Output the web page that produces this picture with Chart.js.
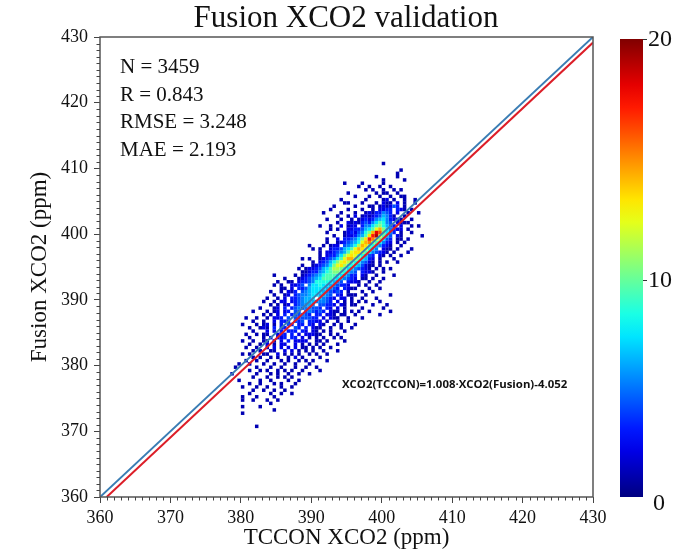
<!DOCTYPE html>
<html>
<head>
<meta charset="utf-8">
<title>Fusion XCO2 validation</title>
<script src="https://cdn.jsdelivr.net/npm/chart.js@4.4.0/dist/chart.umd.min.js"></script>
<style>
    body { margin: 0; background: #fff; }
    #wrap { position: relative; width: 679px; height: 552px; overflow: hidden; }
    #chart { position: absolute; left: 0; top: 0; }
    .serif { position: absolute; font-family: 'Liberation Serif', 'Times New Roman', serif; color: #111; line-height: 1; white-space: nowrap; }
    #title { font-size: 31px; top: 1px; left: 346px; transform: translateX(-50%); }
    .stat { font-size: 21px; left: 120px; }
    #fitText { position: absolute; font-family: 'Open Sans', sans-serif; font-weight: 700; font-size: 11.4px; line-height: 1; color: #111; left: 342px; top: 378px; white-space: nowrap; }
    #cbar { position: absolute; left: 620px; top: 39px; width: 23px; height: 458px; }
    .cbTick { position: absolute; left: 643px; width: 4px; height: 1px; background: #333; }
    .cbLabel { font-size: 24px; }
</style>
</head>
<body>
<div id="wrap">
    <canvas id="chart" width="679" height="552" style="width:679px;height:552px"></canvas>
    <div id="title" class="serif"></div>
    <div id="stats"></div>
    <div id="fitText"></div>
    <div id="cbar"></div>
    <div id="cbLabels"></div>
</div>
<script>
// ---- data ----
var titleText = "Fusion XCO2 validation";
var xTitle = "TCCON XCO2 (ppm)";
var yTitle = "Fusion XCO2 (ppm)";
var axisMin = 360;
var axisMax = 430;
var statLabels = ["N = 3459", "R = 0.843", "RMSE = 3.248", "MAE = 2.193"];
var fitLabel = "XCO2(TCCON)=1.008\u00B7XCO2(Fusion)-4.052";

// 1:1 line and fitted line (end points)
var oneToOneX = [360, 430];
var oneToOneY = [360, 430];
var fitX = [360.95, 430];
var fitY = [360, 429.15];

// colour bar
var countMax = 20;
var cbarTicks = [20, 10, 0];

// 2D histogram: 0.5 ppm bins, first column starts at 378.5 (TCCON),
// first row ends at 411 (Fusion), rows go downward.
// '.' = empty, 1-9, a=10 ... k=20 counts per bin
var binSize = 0.5;
var binX0 = 378.5;
var binYTop = 411;
var densityRows = [
    "..... ..... ..... ..... ..... ..... ..... ..... ...1. ..... .....",
    "..... ..... ..... ..... ..... ..... ..... ..... ..... ..... .....",
    "..... ..... ..... ..... ..... ..... ..... ..... ..... ...1. .....",
    "..... ..... ..... ..... ..... ..... ..... ..... ..... ..1.. .....",
    "..... ..... ..... ..... ..... ..... ..... ..... .1... ..1.. .....",
    "..... ..... ..... ..... ..... ..... ..... ..... ...1. ....1 .....",
    "..... ..... ..... ..... ..... ..... ..1.. ..1.. ...1. ..... .....",
    "..... ..... ..... ..... ..... ..... ..... .1..1 ..1.. 1.... .....",
    "..... ..... ..... ..... ..... ..... ..... ...1. 1..1. .1.1. .....",
    "..... ..... ..... ..... ..... ..... ...1. ..... .1.11 ..1.. .....",
    "..... ..... ..... ..... ..... ..... ..... 1...1 ..1.. 1..11 .....",
    "..... ..... ..... ..... ..... ..... .1... ...1. ...12 .1..1 ..1..",
    "..... ..... ..... ..... ..... ..... ..11. ..1.. .1.21 1.2.1 ..1..",
    "..... ..... ..... ..... ..... ....1 ..... 1...1 1.121 243.1 .....",
    "..... ..... ..... ..... ..... ...1. ...1. ..1.. 1.223 3.321 .1...",
    "..... ..... ..... ..... ..... .1... .1... 1..12 13354 3.2.. 1..1.",
    "..... ..... ..... ..... ..... ..... 1..1. 2.121 23465 31..1 .....",
    "..... ..... ..... ..... ..... ..1.. .1..1 .1232 35675 3221. .1...",
    "..... ..... ..... ..... ..... ..... 1..21 21343 57985 4.211 1....",
    "..... ..... ..... ..... ..... 1..1. .2.12 2.355 79a86 43.2. .1.1.",
    "..... ..... ..... ..... ..... ...1. 1..22 33467 9cea7 5322. 1....",
    "..... ..... ..... ..... ..... ..1.. ..123 2458a eiga7 53.1. .1...",
    "..... ..... ..... ..... ..... ....1 ..122 3569d hjc96 4.21. ....1",
    "..... ..... ..... ..... ..... ..1.. 2.334 57adh fca74 3.11. 1....",
    "..... ..... ..... ..... ..... ..1.. 12345 68cef b9753 2.1.1 .....",
    "..... ..... ..... ..... ..1.. .1.12 2.456 8beda 86532 1..1. .....",
    "..... ..... ..... ..... ...1. 1..23 34679 cedb8 65.21 1.1.. .1...",
    "..... ..... ..... ..... ..... 1.223 4569c ddb97 54321 .1... 1....",
    "..... ..... ..... ..... ..... 1.233 57acd ca864 3.21. 1..1. .....",
    "..... ..... ..... ..... 1.1.. 12345 79cee b9763 2.1.. .1... .....",
    "..... ..... ..... ..... ...1. 23468 acdb9 87542 1.1.1 ..1.. .....",
    "..... ..... ..... ..... 1..12 3457a cdb98 76421 1.1.. ..... .....",
    "..... ..... ..... ....1 .1223 4679b ba976 54321 .1.1. 1.... .....",
    "..... ..... ..... ..... 11233 5689a a9865 4.322 1..1. ..... .....",
    "..... ..... ..1.. ...1. 12345 68999 87653 3.21. .1... .1... .....",
    "..... ..... ..... 1...1 23456 79998 76543 2.11. 1..1. ..... .....",
    "..... ..... ...1. .11.2 33458 88876 54.32 21..1 ..1.. ..... .....",
    "..... ..... ..1.1 ..223 4.577 87765 4332. .1.1. .1... ..... .....",
    "..... ..... ....1 1.2.3 34677 77654 3.321 1...1 ..1.. ..... .....",
    "..... ..... .1..1 .213. 45677 76543 43.1. ..1.. 1.... ..... .....",
    "..... ..... ..1.. 12.34 55677 6654. 32.11 1..1. ..... 1.... .....",
    "..... ..... 1..1. 2.334 5667. 65432 .22.1 ..1.. .1... ..... .....",
    "..... ....1 ..1.2 2.234 56665 5543. 2.1.1 .1.1. ..1.. ..... .....",
    "..... ..... .1.1. 12.34 5565. 44332 .21.1 1.... 1...1 ..... .....",
    "..... ...1. ..12. 3.345 45544 3.32. 2.1.. ..1.. ...1. ..... .....",
    "..... .1... 1.12. 23.44 .4543 43.21 1.1.1 .1..1 ..... 1.... .....",
    "..... ....1 .1.2. 3.344 543.3 3.221 .11.. 1.... ..1.. ..... .....",
    "....1 ..1.. 1.223 .4.44 44433 .2.21 1..1. ..1.. ..... ..... .....",
    "..... .1..1 ..2.3 33.43 4.332 2.1.. 1..1. ..... ..... ..... .....",
    "...1. ..1.1 2.1.3 .43.3 3.32. 21..1 .1... 1.... ..... ..... .....",
    "..... 1..12 1.3.3 3..43 .3.21 1..1. .1..1 ..... ..... ..... .....",
    "..... .1... 2.2.3 .333. 32.21 .1.1. ..1.. ..... ..... ..... .....",
    "....1 ..1.1 1..23 3.3.2 .2221 1..1. 1.... ..... ..... ..... .....",
    "..... 1...1 .2.22 3.33. 2.1.1 .1..1 .1... ..... ..... ..... .....",
    "...1. .1..1 1.1.2 .3.22 22..1 1.1.. ..1.. ..... ..... ..... .....",
    "..... 1..1. 2.1.2 2..2. 1.1.1 .1... 1.... ..... ..... ..... .....",
    "....1 ..1.. 1.2.2 .2.2. 11.1. 1..1. ..... ..... ..... ..... .....",
    "..... .1.1. .11.. 2.2.1 .1.1. .1... 1.... ..... ..... ..... .....",
    "...1. 1...1 1..2. 1.1.1 ..1.1 ..1.. ..... ..... ..... ..... .....",
    "..... .1.1. .1.1. .1.2. 1.... 1.... ..... ..... ..... ..... .....",
    "....1 ..1.. 1...1 .1..1 .1.1. ..1.. ..... ..... ..... ..... .....",
    "..1.. 1...1 ..1.. 1..1. ..1.. ..... ..... ..... ..... ..... .....",
    ".1... ..1.. .1..1 ...1. .1..1 ..... ..... ..... ..... ..... .....",
    "..... 1..1. 1..1. 1.1.. 1.... 1.... ..... ..... ..... ..... .....",
    "1.... ..1.. .1.1. .1..1 ..1.. ..... ..... ..... ..... ..... .....",
    "..... .1... 1..1. 1.1.. ..... ..... ..... ..... ..... ..... .....",
    "..1.. ...1. .1... .1..1 ..... ..... ..... ..... ..... ..... .....",
    "..... 1..1. ..1.1 ...1. ..... ..... ..... ..... ..... ..... .....",
    "...1. ..1.. 1...1 ..1.. ..... ..... ..... ..... ..... ..... .....",
    "..... .1..1 ..1.. 1.... ..... ..... ..... ..... ..... ..... .....",
    "..... 1.... .1..1 ..1.. ..... ..... ..... ..... ..... ..... .....",
    "...1. ..1.. ..1.. ..... ..... ..... ..... ..... ..... ..... .....",
    "...1. .1... 1..1. ..... ..... ..... ..... ..... ..... ..... .....",
    "..... ..... .1... ..... ..... ..... ..... ..... ..... ..... .....",
    "...1. ...1. ..... ..... ..... ..... ..... ..... ..... ..... .....",
    "..... ..... ..1.. ..... ..... ..... ..... ..... ..... ..... .....",
    "...1. ..... ..... ..... ..... ..... ..... ..... ..... ..... .....",
    "..... ..... ..... ..... ..... ..... ..... ..... ..... ..... .....",
    "..... ..... ..... ..... ..... ..... ..... ..... ..... ..... .....",
    "..... ..... ..... ..... ..... ..... ..... ..... ..... ..... .....",
    "..... ..1.. ..... ..... ..... ..... ..... ..... ..... ..... ....."
];

// jet colour map, t in [0,1]
function jet(t) {
    t = Math.max(0, Math.min(1, t));
    function clamp(v) { return Math.max(0, Math.min(1, v)); }
    var r = clamp(Math.min(4 * t - 1.5, -4 * t + 4.5));
    var g = clamp(Math.min(4 * t - 0.5, -4 * t + 3.5));
    var b = clamp(Math.min(4 * t + 0.5, -4 * t + 2.5));
    return 'rgb(' + Math.round(r * 255) + ',' + Math.round(g * 255) + ',' + Math.round(b * 255) + ')';
}

// build the cell list from the rows
var vCells = [];
for (var r = 0; r < densityRows.length; r++) {
    var bRow = densityRows[r].replace(/ /g, '');
    for (var c = 0; c < bRow.length; c++) {
        if (bRow[c] === '.') continue;
        vCells.push({
            x: binX0 + binSize * (c + 0.5),
            y: binYTop - binSize * (r + 0.5),
            v: parseInt(bRow[c], 36)
        });
    }
}
// higher counts drawn last
vCells.sort(function (a, b) { return a.v - b.v; });

var SERIF = "'Liberation Serif', 'Times New Roman', serif";

// frame + minor ticks
var framePlugin = {
    id: 'frame',
    afterDraw: function (chart) {
        var ctx = chart.ctx;
        var a = chart.chartArea;
        var sx = chart.scales.x, sy = chart.scales.y;
        ctx.save();
        ctx.strokeStyle = '#555';
        ctx.lineWidth = 1.5;
        ctx.strokeRect(a.left, a.top, a.right - a.left, a.bottom - a.top);
        ctx.lineWidth = 1;
        ctx.strokeStyle = '#444';
        ctx.beginPath();
        for (var v = axisMin + 1; v < axisMax; v++) {
            if (v % 10 === 0) continue;
            var px = Math.round(sx.getPixelForValue(v)) + 0.5;
            ctx.moveTo(px, a.bottom);
            ctx.lineTo(px, a.bottom + 3.5);
            var py = Math.round(sy.getPixelForValue(v)) + 0.5;
            ctx.moveTo(a.left, py);
            ctx.lineTo(a.left - 3.5, py);
        }
        ctx.stroke();
        ctx.restore();
    }
};

var vCtx = document.getElementById('chart').getContext('2d');
new Chart(vCtx, {
    type: 'scatter',
    data: {
        datasets: [
            {
                label: 'fit',
                data: [{ x: fitX[0], y: fitY[0] }, { x: fitX[1], y: fitY[1] }],
                showLine: true,
                borderColor: '#dc1e28',
                borderWidth: 2,
                pointRadius: 0
            },
            {
                label: '1:1',
                data: [{ x: oneToOneX[0], y: oneToOneY[0] }, { x: oneToOneX[1], y: oneToOneY[1] }],
                showLine: true,
                borderColor: '#3a7db4',
                borderWidth: 2,
                pointRadius: 0
            },
            {
                label: 'density',
                data: vCells,
                pointStyle: 'rect',
                pointRadius: 2.48,
                pointHoverRadius: 2.48,
                pointBorderWidth: 0,
                pointBackgroundColor: vCells.map(function (p) { return jet(p.v / countMax); })
            }
        ]
    },
    options: {
        responsive: false,
        animation: false,
        events: [],
        layout: { padding: { left: 0, right: 86, top: 37, bottom: 0 } },
        plugins: {
            legend: { display: false },
            tooltip: { enabled: false },
            title: { display: false }
        },
        scales: {
            x: {
                type: 'linear',
                min: axisMin,
                max: axisMax,
                afterFit: function (s) { s.height = 55; },
                ticks: { stepSize: 10, autoSkip: false, maxRotation: 0, padding: 4, color: '#111', font: { family: SERIF, size: 18 } },
                grid: { drawOnChartArea: false, drawTicks: true, tickLength: 6, tickColor: '#444', tickWidth: 1 },
                border: { display: false },
                title: { display: true, text: xTitle, color: '#111', font: { family: SERIF, size: 23 }, padding: { top: 0, bottom: 0 } }
            },
            y: {
                type: 'linear',
                min: axisMin,
                max: axisMax,
                afterFit: function (s) { s.width = 100; },
                ticks: { stepSize: 10, autoSkip: false, padding: 6, color: '#111', font: { family: SERIF, size: 18 } },
                grid: { drawOnChartArea: false, drawTicks: true, tickLength: 6, tickColor: '#444', tickWidth: 1 },
                border: { display: false },
                title: { display: true, text: yTitle, color: '#111', font: { family: SERIF, size: 23 }, padding: { top: 26, bottom: 0 } }
            }
        }
    },
    plugins: [framePlugin]
});

// ---- text overlays ----
document.getElementById('title').textContent = titleText;

var vStatTops = [56, 84, 111, 139];
var vStats = document.getElementById('stats');
statLabels.forEach(function (s, i) {
    var d = document.createElement('div');
    d.className = 'serif stat';
    d.style.top = vStatTops[i] + 'px';
    d.textContent = s;
    vStats.appendChild(d);
});

document.getElementById('fitText').textContent = fitLabel;

// colour bar
var vStops = [];
for (var i = 0; i <= 20; i++) {
    vStops.push(jet(i / 20) + ' ' + (i * 5) + '%');
}
document.getElementById('cbar').style.background = 'linear-gradient(to top, ' + vStops.join(', ') + ')';

var vCbTop = 39, vCbH = 458;
var vCbLabels = document.getElementById('cbLabels');
cbarTicks.forEach(function (t) {
    var y = vCbTop + vCbH * (1 - t / countMax);
    if (t === 10) y = 280;
    var lab = document.createElement('div');
    lab.className = 'serif cbLabel';
    lab.textContent = String(t);
    lab.style.left = (t === 0 ? 653 : 648) + 'px';
    lab.style.top = (t === 0 ? 490 : (y - 13)) + 'px';
    vCbLabels.appendChild(lab);
    if (t !== 0) {
        var tk = document.createElement('div');
        tk.className = 'cbTick';
        tk.style.top = Math.round(y) + 'px';
        vCbLabels.appendChild(tk);
    }
});
</script>
</body>
</html>
